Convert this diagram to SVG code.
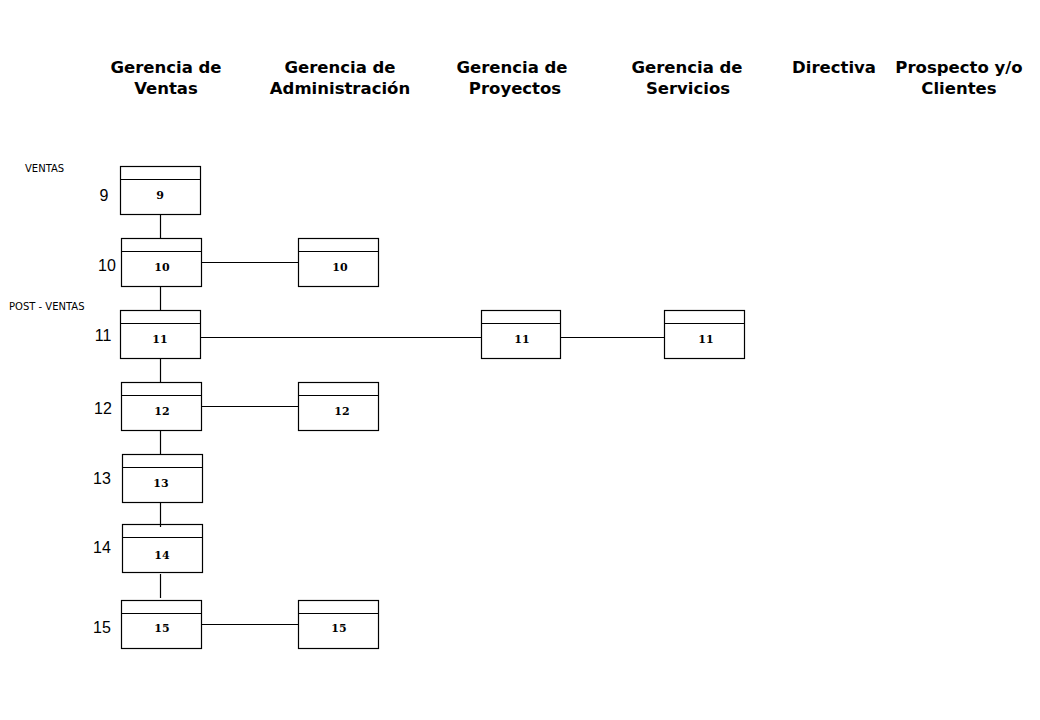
<svg xmlns="http://www.w3.org/2000/svg" width="1040" height="720" viewBox="0 0 1040 720">
<style>
.hdr{font-family:"DejaVu Sans",Verdana,sans-serif;font-weight:bold;font-size:16.5px;fill:#000;text-anchor:middle}
.box{fill:#fff;stroke:#000;stroke-width:1.2}
.div{stroke:#000;stroke-width:1.2}
.lbl{font-family:"DejaVu Serif","Liberation Serif",serif;font-weight:bold;font-size:11px;fill:#000;text-anchor:middle}
.num{font-family:"Liberation Sans",Arial,sans-serif;font-size:16px;fill:#000;text-anchor:middle}
.side{font-family:"DejaVu Sans",sans-serif;font-size:10px;fill:#000}
.con{stroke:#000;stroke-width:1.2;fill:none}
</style>
<rect width="1040" height="720" fill="#fff"/>
<g id="headers">
<text class="hdr" x="166" y="73">Gerencia de</text><text class="hdr" x="166" y="94">Ventas</text>
<text class="hdr" x="340" y="73">Gerencia de</text><text class="hdr" x="340" y="94">Administración</text>
<text class="hdr" x="512" y="73">Gerencia de</text><text class="hdr" x="515" y="94">Proyectos</text>
<text class="hdr" x="687" y="73">Gerencia de</text><text class="hdr" x="688" y="94">Servicios</text>
<text class="hdr" x="834" y="73">Directiva</text>
<text class="hdr" x="959" y="73">Prospecto y/o</text><text class="hdr" x="959" y="94">Clientes</text>
</g>
<g id="side-labels">
<text class="side" x="25" y="172">VENTAS</text>
<text class="side" x="9" y="310">POST - VENTAS</text>
<text class="num" x="104" y="201">9</text>
<text class="num" x="107" y="271">10</text>
<text class="num" x="103" y="341">11</text>
<text class="num" x="103" y="414">12</text>
<text class="num" x="102" y="484">13</text>
<text class="num" x="102" y="553">14</text>
<text class="num" x="102" y="633">15</text>
</g>
<g id="connectors">
<line class="con" x1="160.5" y1="214" x2="160.5" y2="238"/>
<line class="con" x1="160.5" y1="286" x2="160.5" y2="310"/>
<line class="con" x1="160.5" y1="358" x2="160.5" y2="382"/>
<line class="con" x1="160.5" y1="430" x2="160.5" y2="454"/>
<line class="con" x1="160.5" y1="502" x2="160.5" y2="527"/>
<line class="con" x1="160.5" y1="574" x2="160.5" y2="598"/>
<line class="con" x1="201" y1="262.5" x2="298" y2="262.5"/>
<line class="con" x1="200" y1="337.5" x2="481" y2="337.5"/>
<line class="con" x1="560" y1="337.5" x2="664" y2="337.5"/>
<line class="con" x1="201" y1="406.5" x2="298" y2="406.5"/>
<line class="con" x1="202" y1="624.5" x2="298" y2="624.5"/>
</g>
<g id="n9"><rect class="box" x="120.5" y="166.5" width="80" height="48"/><line class="div" x1="120.5" y1="179.5" x2="200.5" y2="179.5"/><text class="lbl" x="160" y="199">9</text></g>
<g id="n10a"><rect class="box" x="121.5" y="238.5" width="80" height="48"/><line class="div" x1="121.5" y1="251.5" x2="201.5" y2="251.5"/><text class="lbl" x="162" y="271">10</text></g>
<g id="n10b"><rect class="box" x="298.5" y="238.5" width="80" height="48"/><line class="div" x1="298.5" y1="251.5" x2="378.5" y2="251.5"/><text class="lbl" x="340" y="271">10</text></g>
<g id="n11a"><rect class="box" x="120.5" y="310.5" width="80" height="48"/><line class="div" x1="120.5" y1="323.5" x2="200.5" y2="323.5"/><text class="lbl" x="160" y="343">11</text></g>
<g id="n11b"><rect class="box" x="481.5" y="310.5" width="79" height="48"/><line class="div" x1="481.5" y1="323.5" x2="560.5" y2="323.5"/><text class="lbl" x="522" y="343">11</text></g>
<g id="n11c"><rect class="box" x="664.5" y="310.5" width="80" height="48"/><line class="div" x1="664.5" y1="323.5" x2="744.5" y2="323.5"/><text class="lbl" x="706" y="343">11</text></g>
<g id="n12a"><rect class="box" x="121.5" y="382.5" width="80" height="48"/><line class="div" x1="121.5" y1="395.5" x2="201.5" y2="395.5"/><text class="lbl" x="162" y="415">12</text></g>
<g id="n12b"><rect class="box" x="298.5" y="382.5" width="80" height="48"/><line class="div" x1="298.5" y1="395.5" x2="378.5" y2="395.5"/><text class="lbl" x="342" y="415">12</text></g>
<g id="n13"><rect class="box" x="122.5" y="454.5" width="80" height="48"/><line class="div" x1="122.5" y1="467.5" x2="202.5" y2="467.5"/><text class="lbl" x="161" y="487">13</text></g>
<g id="n14"><rect class="box" x="122.5" y="524.5" width="80" height="48"/><line class="div" x1="122.5" y1="537.5" x2="202.5" y2="537.5"/><text class="lbl" x="162" y="559">14</text></g>
<line class="con" x1="160.5" y1="524" x2="160.5" y2="527"/>
<g id="n15a"><rect class="box" x="121.5" y="600.5" width="80" height="48"/><line class="div" x1="121.5" y1="613.5" x2="201.5" y2="613.5"/><text class="lbl" x="162" y="632">15</text></g>
<g id="n15b"><rect class="box" x="298.5" y="600.5" width="80" height="48"/><line class="div" x1="298.5" y1="613.5" x2="378.5" y2="613.5"/><text class="lbl" x="339" y="632">15</text></g>
</svg>
